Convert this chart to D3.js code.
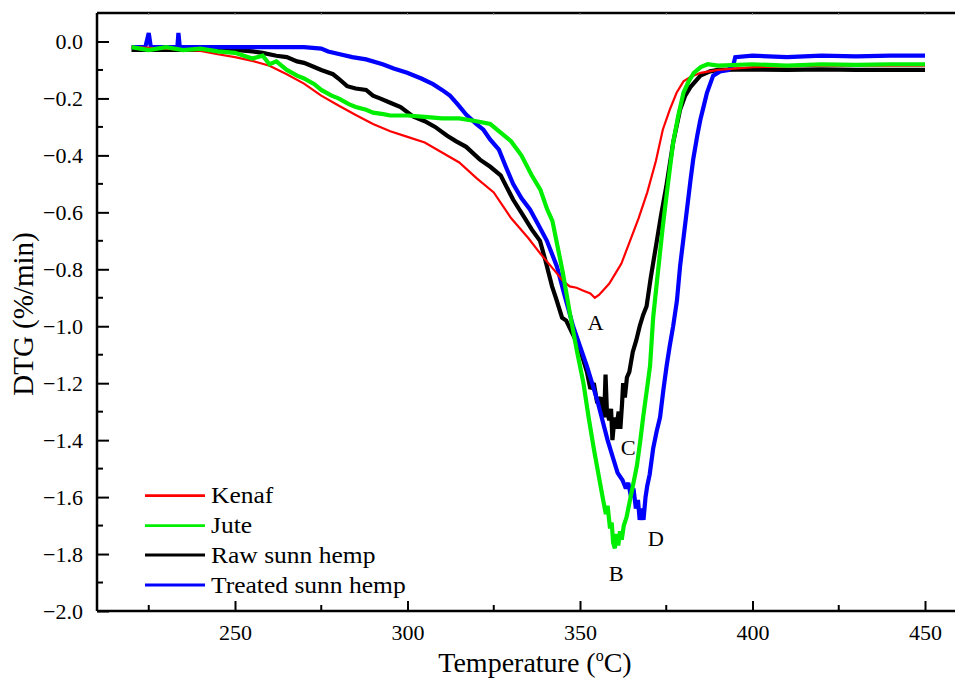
<!DOCTYPE html>
<html><head><meta charset="utf-8">
<script src="https://cdn.jsdelivr.net/npm/d3@7"></script>
<style>body{margin:0;background:#fff}svg{display:block}text{font-family:"Liberation Serif","Times New Roman",serif;fill:#000}</style>
</head><body>
<script>
// ---- data ----
const seriesNames = ["Kenaf", "Jute", "Raw sunn hemp", "Treated sunn hemp"];
const seriesColors = ["#ff0000", "#00ee00", "#000000", "#0000ff"];
const xTicks = [250, 300, 350, 400, 450];
const yTicks = [0.0, -0.2, -0.4, -0.6, -0.8, -1.0, -1.2, -1.4, -1.6, -1.8, -2.0];
const peakLabels = [["A", 354.5, -0.99], ["B", 360.5, -1.87], ["C", 364, -1.43], ["D", 372, -1.75]];

const kenaf = [[220,-0.02],[230,-0.025],[240,-0.033],[245,-0.045],[250,-0.055],[255,-0.068],[260,-0.085],[265,-0.115],[270,-0.148],[275,-0.19],[280,-0.225],[285,-0.258],[290,-0.29],[295,-0.315],[300,-0.335],[305,-0.355],[310,-0.39],[315,-0.425],[320,-0.48],[325,-0.53],[330,-0.62],[335,-0.69],[338.5,-0.745],[343,-0.81],[345,-0.84],[347,-0.86],[349,-0.865],[351,-0.875],[353,-0.885],[354.3,-0.90],[355.5,-0.89],[357,-0.87],[358.5,-0.85],[360.5,-0.81],[362,-0.78],[364.5,-0.70],[367,-0.62],[369.5,-0.53],[372,-0.42],[374,-0.31],[376,-0.24],[378,-0.18],[380,-0.14],[382,-0.125],[385,-0.11],[390,-0.1],[400,-0.09],[420,-0.085],[450,-0.085]];

const jute = [[220,-0.02],[225,-0.03],[230,-0.02],[235,-0.03],[240,-0.025],[245,-0.035],[250,-0.04],[255,-0.06],[258,-0.05],[260,-0.08],[262,-0.07],[265,-0.1],[268,-0.12],[270,-0.13],[273,-0.15],[275,-0.17],[278,-0.19],[280,-0.2],[283,-0.22],[285,-0.23],[288,-0.24],[290,-0.25],[293,-0.255],[295,-0.26],[300,-0.26],[305,-0.265],[310,-0.27],[315,-0.27],[320,-0.28],[324,-0.29],[327,-0.32],[330,-0.35],[333,-0.40],[336,-0.47],[338.5,-0.52],[340.5,-0.59],[342,-0.63],[343.5,-0.72],[345,-0.81],[347,-0.95],[349,-1.08],[351,-1.2],[352.5,-1.32],[354,-1.43],[355.5,-1.53],[356.7,-1.61],[357.5,-1.66],[358,-1.63],[358.7,-1.71],[359.2,-1.69],[359.6,-1.76],[360.1,-1.78],[360.6,-1.73],[361.1,-1.77],[361.6,-1.72],[362.1,-1.75],[362.7,-1.70],[363.5,-1.67],[364.5,-1.61],[365.5,-1.55],[366.5,-1.49],[367.5,-1.40],[368.3,-1.32],[369.3,-1.23],[370.3,-1.14],[371.2,-0.97],[372.5,-0.82],[374,-0.65],[375.5,-0.5],[377,-0.355],[378.5,-0.26],[380,-0.18],[381.5,-0.14],[383,-0.11],[385,-0.09],[387,-0.08],[390,-0.085],[400,-0.08],[410,-0.085],[420,-0.08],[430,-0.082],[440,-0.08],[450,-0.08]];

const rawSunnHemp = [[220,-0.03],[230,-0.03],[240,-0.03],[250,-0.03],[255,-0.035],[258,-0.04],[262,-0.05],[265,-0.055],[268,-0.07],[270,-0.075],[272.6,-0.088],[275,-0.1],[278.4,-0.115],[280,-0.13],[282.5,-0.157],[285,-0.165],[288,-0.17],[290,-0.19],[292,-0.2],[295,-0.215],[298,-0.23],[301.6,-0.263],[305,-0.28],[308,-0.3],[311.4,-0.33],[314,-0.35],[317,-0.37],[321,-0.415],[324,-0.44],[327,-0.47],[330.6,-0.555],[334,-0.62],[336,-0.66],[338.4,-0.70],[340,-0.77],[341.9,-0.86],[343,-0.90],[344.8,-0.97],[346,-0.98],[348,-1.03],[350,-1.08],[352,-1.16],[353,-1.22],[354,-1.20],[355,-1.27],[356,-1.25],[357,-1.32],[357.4,-1.17],[357.8,-1.30],[358.5,-1.33],[359,-1.29],[359.4,-1.40],[360,-1.32],[360.5,-1.36],[361.2,-1.30],[361.7,-1.36],[362.2,-1.27],[362.5,-1.20],[363,-1.25],[363.6,-1.18],[364.3,-1.16],[365.3,-1.09],[366.3,-1.05],[367.3,-1.0],[368.3,-0.96],[369.3,-0.93],[370.5,-0.83],[372,-0.72],[373.5,-0.61],[375,-0.51],[377,-0.355],[379,-0.24],[380.5,-0.19],[382,-0.16],[384.9,-0.12],[387.7,-0.105],[390,-0.1],[400,-0.098],[410,-0.1],[420,-0.098],[430,-0.1],[440,-0.1],[450,-0.1]];

const treatedSunnHemp = [[220,-0.02],[224,-0.02],[225,0.03],[225.6,-0.02],[230,-0.02],[233.3,-0.02],[233.6,0.03],[234,-0.02],[240,-0.02],[250,-0.02],[260,-0.02],[270,-0.02],[275,-0.025],[277,-0.035],[280.4,-0.045],[284,-0.055],[288,-0.063],[292.8,-0.08],[296,-0.095],[299.9,-0.11],[304,-0.13],[307.4,-0.15],[310,-0.17],[312.3,-0.19],[314.5,-0.22],[317,-0.257],[320,-0.29],[322,-0.31],[324,-0.345],[326.5,-0.38],[328.5,-0.44],[330.6,-0.5],[333,-0.55],[335.5,-0.59],[338,-0.645],[340.4,-0.70],[343.3,-0.79],[345.5,-0.89],[348,-1.0],[350,-1.07],[352,-1.14],[353.5,-1.2],[355,-1.26],[356.5,-1.33],[358,-1.40],[359.5,-1.46],[360.9,-1.515],[362.3,-1.54],[363.3,-1.57],[364,-1.55],[364.8,-1.60],[365.5,-1.57],[366.2,-1.64],[366.8,-1.61],[367.3,-1.68],[367.8,-1.64],[368.4,-1.68],[369,-1.60],[369.5,-1.56],[370.2,-1.52],[371.2,-1.43],[372.2,-1.37],[373.2,-1.32],[374.2,-1.22],[375.1,-1.14],[376,-1.07],[377,-1.0],[378.1,-0.91],[379,-0.79],[380,-0.69],[381,-0.59],[382,-0.49],[382.8,-0.415],[384,-0.33],[384.9,-0.274],[386,-0.22],[386.8,-0.18],[388.6,-0.12],[390.6,-0.105],[393,-0.1],[394.5,-0.08],[395,-0.055],[400,-0.05],[410,-0.055],[420,-0.05],[430,-0.052],[440,-0.05],[450,-0.05]];

const seriesData = [kenaf, jute, rawSunnHemp, treatedSunnHemp];
const seriesWidths = [2.2, 4.2, 4.2, 4.2];
const drawOrder = [2, 3, 0, 1];

// ---- layout ----
const W = 955, H = 678;
const mLeft = 97, mTop = 13, mBottom = 611;
const x = d3.scaleLinear().domain([210, 460]).range([mLeft, mLeft + 250 * 3.45]);
const y = d3.scaleLinear().domain([-2.0, 0.1]).range([mBottom, mTop]);

const svg = d3.select("body").append("svg").attr("width", W).attr("height", H);

svg.append("defs").append("clipPath").attr("id", "clip")
  .append("rect").attr("x", mLeft).attr("y", mTop).attr("width", W - mLeft).attr("height", mBottom - mTop);

const line = d3.line().x(d => x(d[0])).y(d => y(d[1]));
const g = svg.append("g").attr("clip-path", "url(#clip)");
drawOrder.forEach(i => {
  g.append("path").datum(seriesData[i]).attr("d", line)
    .attr("fill", "none").attr("stroke", seriesColors[i])
    .attr("stroke-width", seriesWidths[i]).attr("stroke-linejoin", "miter").attr("stroke-miterlimit", 2);
});

// axes
const yAxis = d3.axisLeft(y).tickValues(yTicks).tickFormat(d3.format(".1f")).tickSizeInner(-12).tickSizeOuter(0).tickPadding(14);
const yg = svg.append("g").attr("transform", `translate(${mLeft},0)`).call(yAxis);
const xAxis = d3.axisBottom(x).tickValues(xTicks).tickFormat(d3.format("d")).tickSizeInner(-10).tickSizeOuter(0).tickPadding(13);
const xg = svg.append("g").attr("transform", `translate(0,${mBottom})`).call(xAxis);
[yg, xg].forEach(a => {
  a.select(".domain").attr("stroke-width", 2.5);
  a.selectAll(".tick line").attr("stroke-width", 2);
  a.selectAll("text").style("font-size", "22px").style("font-family", '"Liberation Serif",serif');
});
xg.select(".domain").attr("d", `M${mLeft},0H${W}`);
yg.select(".domain").attr("d", `M0,${mBottom}V${mTop}`);

// minor ticks
const yMinor = [-1.9, -1.7, -1.5, -1.3, -1.1, -0.9, -0.7, -0.5, -0.3, -0.1];
svg.append("g").selectAll("line").data(yMinor).join("line")
  .attr("x1", mLeft).attr("x2", mLeft + 6).attr("y1", d => y(d)).attr("y2", d => y(d))
  .attr("stroke", "#000").attr("stroke-width", 2);
const xMinor = [225, 275, 325, 375, 425];
svg.append("g").selectAll("line").data(xMinor).join("line")
  .attr("x1", d => x(d)).attr("x2", d => x(d)).attr("y1", mBottom).attr("y2", mBottom - 6)
  .attr("stroke", "#000").attr("stroke-width", 2);

// top border with tiny ticks
svg.append("line").attr("x1", mLeft).attr("x2", W).attr("y1", mTop).attr("y2", mTop).attr("stroke", "#000").attr("stroke-width", 2.5);
svg.append("g").selectAll("line").data(xTicks.concat(xMinor)).join("line")
  .attr("x1", d => x(d)).attr("x2", d => x(d)).attr("y1", mTop).attr("y2", mTop + 2)
  .attr("stroke", "#888").attr("stroke-width", 1);

// axis titles
svg.append("text").attr("transform", "translate(33,314) rotate(-90)").attr("text-anchor", "middle")
  .style("font-size", "29px").text("DTG (%/min)");
const xt = svg.append("text").attr("x", 535).attr("y", 672).attr("text-anchor", "middle").style("font-size", "28px");
xt.append("tspan").text("Temperature (");
xt.append("tspan").attr("dy", -11).style("font-size", "16px").text("o");
xt.append("tspan").attr("dy", 11).text("C)");

// peak labels
svg.append("g").selectAll("text").data(peakLabels).join("text")
  .attr("transform", d => `translate(${x(d[1])},${y(d[2])}) scale(1.12,1)`).attr("text-anchor", "middle")
  .attr("dominant-baseline", "central").style("font-size", "20px").text(d => d[0]);

// legend
const legY = [495.7, 525.7, 555, 585];
const leg = svg.append("g");
seriesNames.forEach((n, i) => {
  leg.append("line").attr("x1", 145).attr("x2", 205).attr("y1", legY[i]).attr("y2", legY[i])
    .attr("stroke", seriesColors[i]).attr("stroke-width", 2.8);
  leg.append("text").attr("transform", `translate(211,${legY[i] + 7.5}) scale(1.11,1)`)
    .style("font-size", "23px").text(n);
});
</script>
</body></html>
